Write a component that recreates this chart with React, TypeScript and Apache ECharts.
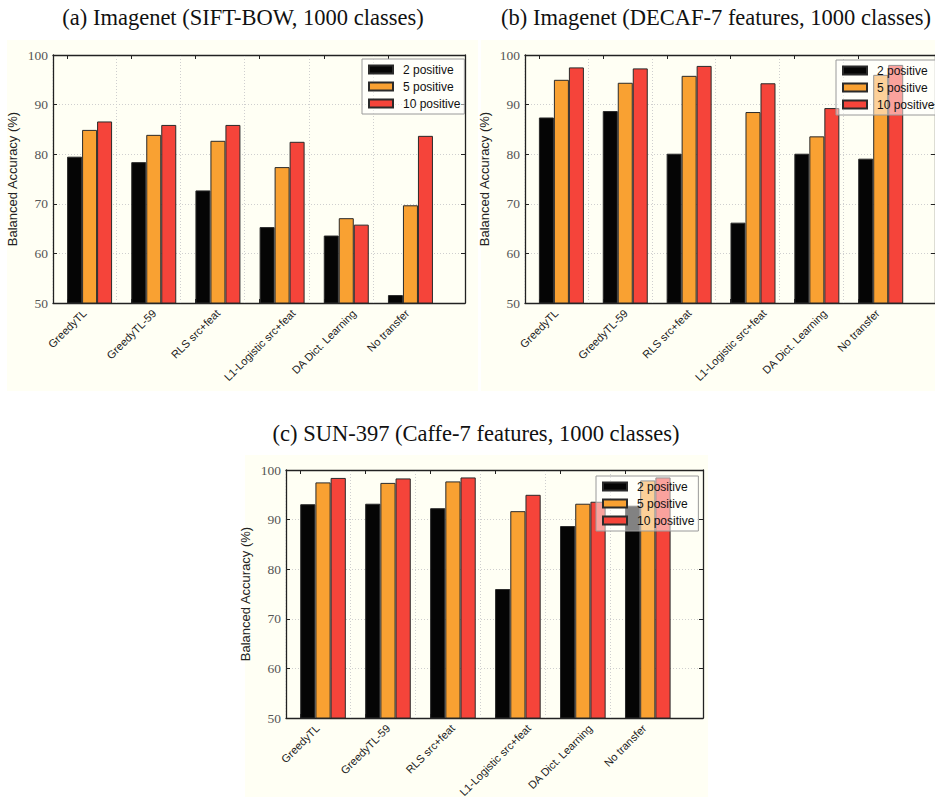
import React, { useEffect, useRef } from "react";
import * as echarts from "echarts";

const categories = [
  "GreedyTL",
  "GreedyTL-59",
  "RLS src+feat",
  "L1-Logistic src+feat",
  "DA Dict. Learning",
  "No transfer",
];
const seriesNames = ["2 positive", "5 positive", "10 positive"];
const panelTitles = [
  "(a) Imagenet (SIFT-BOW, 1000 classes)",
  "(b) Imagenet (DECAF-7 features, 1000 classes)",
  "(c) SUN-397 (Caffe-7 features, 1000 classes)",
];
const yAxisTitle = "Balanced Accuracy (%)";

const siftPos2 = [79.5, 78.4, 72.7, 65.3, 63.6, 51.6];
const siftPos5 = [84.9, 83.9, 82.7, 77.4, 67.1, 69.7];
const siftPos10 = [86.6, 85.9, 85.9, 82.5, 65.8, 83.7];

const decafPos2 = [87.4, 88.7, 80.1, 66.2, 80.1, 79.1];
const decafPos5 = [95.0, 94.4, 95.8, 88.5, 83.6, 96.0];
const decafPos10 = [97.5, 97.3, 97.8, 94.3, 89.3, 98.0];

const sunPos2 = [93.1, 93.2, 92.3, 76.0, 88.7, 92.8];
const sunPos5 = [97.5, 97.4, 97.7, 91.7, 93.2, 97.9];
const sunPos10 = [98.4, 98.3, 98.5, 95.0, 93.6, 98.5];

const yMin = 50;
const yMax = 100;
const yStep = 10;

const panelValues = [
  [siftPos2, siftPos5, siftPos10],
  [decafPos2, decafPos5, decafPos10],
  [sunPos2, sunPos5, sunPos10],
];

// layout (positions / sizes / styles)
const layout = [
  { grid: { left: 53, top: 55, width: 412, height: 248 }, bg: [7, 40, 471, 351], title: [243, 17], legend: { left: 362, top: 59 }, barW: 15 },
  { grid: { left: 525, top: 55, width: 412, height: 248 }, bg: [481, 40, 460, 351], title: [716, 17], legend: { left: 836, top: 60 }, barW: 15 },
  { grid: { left: 286, top: 470, width: 417, height: 248 }, bg: [245, 455, 463, 342], title: [476, 433], legend: { left: 596, top: 476 }, barW: 15.2 },
];
const xMin = -0.22;
const xMax = 6.2;
const groupHalf = 0.35;
const colors = ["#050505", "#F9A132", "#F5443A"];
const cream = "#FFFFF4";
const sans = "Liberation Sans";
const serif = "Liberation Serif";

export default function App() {
  const ref = useRef<HTMLDivElement>(null);
  useEffect(() => {
    if (!ref.current) return;
    const chart = echarts.init(ref.current, undefined, { renderer: "svg" });
    const grids: any[] = [];
    const xAxes: any[] = [];
    const yAxes: any[] = [];
    const series: any[] = [];
    const legends: any[] = [];
    const elements: any[] = [];
    const tickVals = categories.map((_, i) => i);

    layout.forEach((L, k) => {
      grids.push({ ...L.grid, containLabel: false, show: false });
      const baseX = {
        type: "value",
        gridIndex: k,
        min: xMin,
        max: xMax,
        axisLine: { show: true, onZero: false, lineStyle: { color: "#222", width: 1.3 } },
        axisTick: { show: true, inside: true, length: 4, customValues: tickVals, lineStyle: { color: "#222" } },
        axisLabel: { show: false },
        splitLine: { show: false },
      };
      xAxes.push({ ...baseX, position: "bottom" });
      xAxes.push({ ...baseX, position: "top" });
      const baseY = {
        type: "value",
        gridIndex: k,
        min: yMin,
        max: yMax,
        interval: yStep,
        axisLine: { show: true, onZero: false, lineStyle: { color: "#222", width: 1.3 } },
        axisTick: { show: true, inside: true, length: 4, lineStyle: { color: "#222" } },
      };
      yAxes.push({
        ...baseY,
        position: "left",
        name: yAxisTitle,
        nameLocation: "middle",
        nameRotate: 90,
        nameGap: 34,
        nameTextStyle: { fontFamily: sans, fontSize: 13, color: "#222" },
        axisLabel: { show: true, fontFamily: serif, fontSize: 13.5, color: "#555", margin: 5 },
        splitLine: { show: true, lineStyle: { color: "#cfcfcf", type: [1, 2], width: 1 } },
      });
      yAxes.push({
        ...baseY,
        position: "right",
        axisLabel: { show: false },
        splitLine: { show: false },
      });
      panelValues[k].forEach((vals, j) => {
        series.push({
          type: "bar",
          name: seriesNames[j],
          xAxisIndex: 2 * k,
          yAxisIndex: 2 * k,
          barWidth: L.barW,
          barGap: "0%",
          itemStyle: { color: colors[j], borderColor: "#2a2a2a", borderWidth: 1 },
          data: vals.map((v, i) => [i + groupHalf, v]),
          markLine:
            j === 0
              ? {
                  silent: true,
                  symbol: "none",
                  label: { show: false },
                  lineStyle: { color: "#cfcfcf", type: [1, 2], width: 1 },
                  data: tickVals.map((t) => ({ xAxis: t })),
                  z: 1,
                }
              : undefined,
        });
      });
      legends.push({
        orient: "vertical",
        left: L.legend.left,
        top: L.legend.top,
        data: seriesNames,
        icon: "rect",
        itemWidth: 24,
        itemHeight: 8,
        itemGap: 0,
        padding: [2, 4, 2, 6],
        backgroundColor: "rgba(255,255,255,0.5)",
        borderColor: "#9a9a9a",
        borderWidth: 1,
        z: 10,
        textStyle: { fontFamily: sans, fontSize: 12, color: "#111", lineHeight: 17, padding: [0, 0, 0, 5] },
      });
      elements.push({
        id: "bg" + k,
        type: "rect",
        z: -10,
        silent: true,
        shape: { x: L.bg[0], y: L.bg[1], width: L.bg[2], height: L.bg[3] },
        style: { fill: cream },
      });
      elements.push({
        id: "title" + k,
        type: "text",
        x: L.title[0],
        y: L.title[1],
        style: {
          text: panelTitles[k],
          fontFamily: serif,
          fontSize: 22.5,
          fill: "#111",
          align: "center",
          verticalAlign: "middle",
        },
      });
    });

    chart.setOption({
      animation: false,
      backgroundColor: "#ffffff",
      grid: grids,
      xAxis: xAxes,
      yAxis: yAxes,
      series,
      legend: legends,
      graphic: { elements },
    });

    // x tick labels: rotated 45°, bounding box centred on the tick, top just under the axis
    const canvas = document.createElement("canvas");
    const ctx = canvas.getContext("2d");
    const fontSize = 11;
    if (ctx) ctx.font = `${fontSize}px "${sans}"`;
    const labelEls: any[] = [];
    layout.forEach((_, k) => {
      const yAxisPx = chart.convertToPixel({ yAxisIndex: 2 * k }, yMin) as number;
      categories.forEach((c, i) => {
        const xPx = chart.convertToPixel({ xAxisIndex: 2 * k }, i) as number;
        const w = ctx ? ctx.measureText(c).width : c.length * 6;
        const h = fontSize * 1.1;
        const half = ((w + h) * Math.SQRT1_2) / 2;
        labelEls.push({
          id: `lab${k}_${i}`,
          type: "text",
          x: xPx,
          y: yAxisPx + 4 + half,
          rotation: Math.PI / 4,
          style: {
            text: c,
            fontFamily: sans,
            fontSize,
            fill: "#222",
            align: "center",
            verticalAlign: "middle",
          },
        });
      });
    });
    chart.setOption({ graphic: { elements: labelEls } });

    return () => chart.dispose();
  }, []);
  return <div ref={ref} style={{ position: "fixed", left: 0, top: 0, width: 935, height: 801 }} />;
}
